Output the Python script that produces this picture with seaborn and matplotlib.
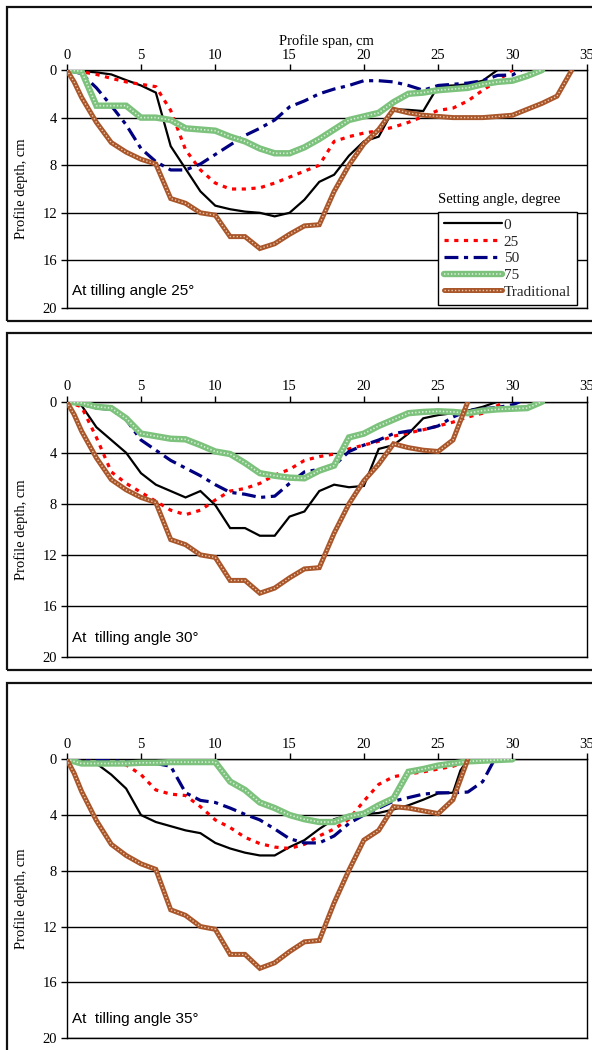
import matplotlib
matplotlib.use("Agg")
import matplotlib.pyplot as plt
import seaborn as sns
from matplotlib.patches import Rectangle

# ---------------- data ----------------
# Panel 1: tilling angle 25°
x1_0 = [0, 1, 2, 3, 4, 5, 6, 7, 8, 9, 10, 11, 12, 13, 14, 15, 16, 17, 18, 19, 20, 21, 22, 23, 24, 25, 26, 27, 28, 29]
d1_0 = [0, 0.1, 0.2, 0.37, 0.85, 1.3, 1.9, 6.4, 8.3, 10.2, 11.4, 11.7, 11.9, 12.0, 12.3, 12.0, 10.9, 9.4, 8.8, 7.2, 6.0, 5.6, 3.3, 3.35, 3.45, 1.35, 1.3, 1.2, 0.9, 0]
x1_25 = [0, 1, 2, 3, 4, 5, 6, 7, 8, 9, 10, 11, 12, 13, 14, 15, 16, 17, 18, 19, 20, 21, 22, 23, 24, 25, 26, 27, 28, 29, 30]
d1_25 = [0, 0.15, 0.37, 0.7, 1.0, 1.2, 1.4, 3.4, 6.7, 8.4, 9.5, 10.0, 10.0, 9.9, 9.5, 9.0, 8.5, 8.0, 6.0, 5.6, 5.3, 5.1, 4.8, 4.4, 3.9, 3.4, 3.2, 2.6, 1.7, 0.9, 0]
x1_50 = [0, 1, 2, 3, 4, 5, 6, 7, 8, 9, 10, 11, 12, 13, 14, 15, 16, 17, 18, 19, 20, 21, 22, 23, 24, 25, 26, 27, 28, 29, 30, 30.6]
d1_50 = [0, 0.3, 1.5, 3.0, 4.6, 6.6, 7.7, 8.4, 8.4, 7.9, 7.1, 6.3, 5.5, 4.9, 4.2, 3.1, 2.6, 2.0, 1.6, 1.3, 0.9, 0.9, 1.0, 1.3, 1.7, 1.3, 1.2, 1.1, 0.9, 0.45, 0.42, 0]
x1_75 = [0, 1, 2, 3, 4, 5, 6, 7, 8, 9, 10, 11, 12, 13, 14, 15, 16, 17, 18, 19, 20, 21, 22, 23, 24, 25, 26, 27, 28, 29, 30, 31, 32]
d1_75 = [0, 0.1, 3.0, 3.0, 3.0, 4.0, 4.0, 4.2, 4.9, 5.0, 5.1, 5.6, 6.0, 6.6, 7.0, 7.0, 6.5, 5.8, 5.0, 4.2, 3.9, 3.6, 2.7, 2.0, 1.9, 1.7, 1.6, 1.5, 1.2, 1.0, 0.9, 0.5, 0]
xt1 = [0, 0.5, 1, 2, 3, 4, 5, 6, 7, 8, 9, 10, 11, 12, 13, 14, 15, 16, 17, 18, 19, 20, 21, 22, 23, 24, 25, 26, 27, 28, 29, 30, 31, 32, 33, 34]
dt1 = [0, 1.0, 2.3, 4.4, 6.1, 6.9, 7.5, 7.9, 10.8, 11.2, 12.0, 12.2, 14.0, 14.0, 15.0, 14.6, 13.8, 13.1, 13.0, 10.2, 8.0, 6.2, 5.0, 3.3, 3.6, 3.8, 3.9, 4.0, 4.0, 4.0, 3.9, 3.8, 3.3, 2.8, 2.2, 0]

# Panel 2: tilling angle 30°
x2_0 = [0, 1, 2, 3, 4, 5, 6, 7, 8, 9, 10, 11, 12, 13, 14, 15, 16, 17, 18, 19, 20, 21, 22, 23, 24, 25, 26, 27, 28, 29]
d2_0 = [0, 0.3, 2.0, 3.0, 4.0, 5.6, 6.5, 7.0, 7.5, 7.0, 8.1, 9.9, 9.9, 10.5, 10.5, 9.0, 8.6, 7.0, 6.5, 6.7, 6.6, 3.7, 3.4, 2.5, 1.3, 1.05, 0.9, 0.7, 0.4, 0]
x2_25 = [0, 1, 2, 3, 4, 5, 6, 7, 8, 9, 10, 11, 12, 13, 14, 15, 16, 17, 18, 19, 20, 21, 22, 23, 24, 25, 26, 27, 28, 29, 29.5]
d2_25 = [0, 0.4, 2.8, 5.5, 6.4, 7.1, 7.8, 8.5, 8.85, 8.5, 7.7, 7.0, 6.8, 6.4, 5.75, 5.3, 4.6, 4.3, 4.1, 3.7, 3.4, 3.1, 2.7, 2.45, 2.2, 1.9, 1.6, 1.2, 0.9, 0.3, 0]
x2_50 = [0, 1, 2, 3, 4, 5, 6, 7, 8, 9, 10, 11, 12, 13, 14, 15, 16, 17, 18, 19, 20, 21, 22, 23, 24, 25, 26, 27, 28, 29, 30, 30.5]
d2_50 = [0, 0.2, 0.5, 0.6, 1.4, 3.0, 3.8, 4.6, 5.2, 5.8, 6.5, 7.1, 7.25, 7.5, 7.4, 6.4, 5.5, 5.3, 5.0, 3.9, 3.4, 3.0, 2.5, 2.3, 2.2, 1.9, 1.2, 0.7, 0.55, 0.45, 0.25, 0]
x2_75 = [0, 1, 2, 3, 4, 5, 6, 7, 8, 9, 10, 11, 12, 13, 14, 15, 16, 17, 18, 19, 20, 21, 22, 23, 24, 25, 26, 27, 28, 29, 30, 31, 32]
d2_75 = [0, 0.1, 0.4, 0.5, 1.3, 2.5, 2.7, 2.9, 2.95, 3.4, 3.9, 4.1, 4.8, 5.6, 5.8, 5.95, 6.0, 5.4, 5.0, 2.8, 2.5, 1.9, 1.4, 0.9, 0.8, 0.75, 0.8, 0.9, 0.7, 0.6, 0.55, 0.5, 0]
xt2 = [0, 0.5, 1, 2, 3, 4, 5, 6, 7, 8, 9, 10, 11, 12, 13, 14, 15, 16, 17, 18, 19, 20, 21, 22, 23, 24, 25, 26, 27]
dt2 = [0, 1.0, 2.3, 4.4, 6.1, 6.9, 7.5, 7.9, 10.8, 11.2, 12.0, 12.2, 14.0, 14.0, 15.0, 14.6, 13.8, 13.1, 13.0, 10.3, 8.0, 6.2, 4.9, 3.3, 3.6, 3.8, 3.9, 3.0, 0]

# Panel 3: tilling angle 35°
x3_0 = [0, 1, 2, 3, 4, 5, 6, 7, 8, 9, 10, 11, 12, 13, 14, 15, 16, 17, 18, 19, 20, 21, 22, 23, 24, 25, 26, 26.5, 27]
d3_0 = [0, 0.1, 0.3, 1.1, 2.1, 4.0, 4.5, 4.8, 5.1, 5.3, 6.0, 6.4, 6.7, 6.9, 6.9, 6.3, 5.8, 5.0, 4.3, 4.0, 3.95, 3.85, 3.6, 3.3, 2.9, 2.45, 2.4, 0.8, 0]
x3_25 = [0, 1, 2, 3, 4, 5, 6, 7, 8, 9, 10, 11, 12, 13, 14, 15, 16, 17, 18, 19, 20, 21, 22, 23, 24, 25, 26, 27, 27.5]
d3_25 = [0, 0.05, 0.1, 0.2, 0.4, 1.1, 2.2, 2.5, 2.6, 3.4, 4.35, 4.9, 5.6, 6.05, 6.3, 6.4, 6.1, 5.5, 5.0, 4.3, 3.0, 1.8, 1.25, 1.05, 0.9, 0.7, 0.5, 0.1, 0]
x3_50 = [0, 1, 2, 3, 4, 5, 6, 7, 8, 9, 10, 11, 12, 13, 14, 15, 16, 17, 18, 19, 20, 21, 22, 23, 24, 25, 26, 27, 28, 28.8]
d3_50 = [0, 0.02, 0.05, 0.1, 0.15, 0.2, 0.3, 0.5, 2.4, 2.95, 3.1, 3.5, 3.95, 4.35, 5.0, 5.7, 6.0, 6.0, 5.5, 4.6, 4.0, 3.5, 3.0, 2.75, 2.5, 2.4, 2.4, 2.35, 1.6, 0]
x3_75 = [0, 1, 2, 3, 4, 5, 6, 7, 8, 9, 10, 11, 12, 13, 14, 15, 16, 17, 18, 19, 20, 21, 22, 23, 24, 25, 26, 27, 28, 29, 30]
d3_75 = [0, 0.3, 0.3, 0.3, 0.3, 0.25, 0.25, 0.2, 0.2, 0.2, 0.2, 1.6, 2.2, 3.1, 3.5, 4.0, 4.3, 4.5, 4.5, 4.1, 3.9, 3.3, 2.8, 0.9, 0.7, 0.45, 0.3, 0.15, 0.1, 0.05, 0]
xt3 = [0, 0.5, 1, 2, 3, 4, 5, 6, 7, 8, 9, 10, 11, 12, 13, 14, 15, 16, 17, 18, 19, 20, 21, 22, 23, 24, 25, 26, 27]
dt3 = [0, 1.0, 2.3, 4.4, 6.1, 6.9, 7.5, 7.9, 10.8, 11.2, 12.0, 12.2, 14.0, 14.0, 15.0, 14.6, 13.8, 13.1, 13.0, 10.3, 7.95, 5.8, 5.1, 3.4, 3.5, 3.7, 3.9, 2.9, 0]

series_labels = ["0", "25", "50", "75", "Traditional"]
panel_titles = ["At tilling angle 25°", "At  tilling angle 30°", "At  tilling angle 35°"]
x_ticks = [0, 5, 10, 15, 20, 25, 30, 35]
y_ticks = [0, 4, 8, 12, 16, 20]
x_title = "Profile span, cm"
y_title = "Profile depth, cm"
legend_title = "Setting angle, degree"

panels = [
    [(x1_0, d1_0), (x1_25, d1_25), (x1_50, d1_50), (x1_75, d1_75), (xt1, dt1)],
    [(x2_0, d2_0), (x2_25, d2_25), (x2_50, d2_50), (x2_75, d2_75), (xt2, dt2)],
    [(x3_0, d3_0), (x3_25, d3_25), (x3_50, d3_50), (x3_75, d3_75), (xt3, dt3)],
]

# ---------------- style ----------------
sns.set_theme(style="white")
plt.rcParams["font.family"] = ["Liberation Serif", "DejaVu Serif"]
plt.rcParams["lines.scale_dashes"] = False

W, H = 592, 1050
fig = plt.figure(figsize=(W / 100, H / 100), dpi=100)

# axes boxes in pixels: (left, top, right, bottom)
ax_px = [(66.7, 70, 586.7, 308), (66.7, 401.7, 586.7, 657), (66.7, 759.3, 586.7, 1038)]
frame_px = [(7, 7, 600, 321), (7, 333, 600, 670), (7, 683, 600, 1060)]
text_y = [18.6, 18.5, 18.65]

for (fl, ft, fr, fb) in frame_px:
    fig.add_artist(Rectangle((fl / W, 1 - fb / H), (fr - fl) / W, (fb - ft) / H,
                             transform=fig.transFigure, fill=False, lw=1.6,
                             edgecolor="#111111", zorder=0))

styles = [
    dict(color="black", lw=1.6, ls="-"),
    dict(color="#ff0000", lw=2.3, ls=(0, (3, 4))),
    dict(color="#000080", lw=2.3, ls=(0, (10, 4, 3, 4))),
    dict(color="#7cc27c", lw=4.6, ls="-"),
    dict(color="#a9562a", lw=3.6, ls="-"),
]
overlay = {3: dict(color="#d8eed8", lw=1.2, ls=(0, (1, 1.5))),
           4: dict(color="#ecc7aa", lw=1.0, ls=(0, (1, 1.5)))}

for i, (l, t, r, b) in enumerate(ax_px):
    ax = fig.add_axes([l / W, 1 - b / H, (r - l) / W, (b - t) / H])
    handles = []
    for j, (xs, ys) in enumerate(panels[i]):
        st = styles[j]
        sns.lineplot(x=xs, y=ys, ax=ax, sort=False, estimator=None,
                     color=st["color"], linewidth=st["lw"], linestyle=st["ls"],
                     solid_joinstyle="miter", zorder=3 + j)
        h = [ax.lines[-1]]
        if j in overlay:
            ov = overlay[j]
            sns.lineplot(x=xs, y=ys, ax=ax, sort=False, estimator=None,
                         color=ov["color"], linewidth=ov["lw"], linestyle=ov["ls"],
                         zorder=3 + j + 0.5)
            h.append(ax.lines[-1])
        handles.append(tuple(h))

    ax.set_xlim(0, 35)
    ax.set_ylim(20, 0)
    ax.set_xticks(x_ticks)
    ax.set_yticks(y_ticks)
    ax.xaxis.tick_top()
    ax.tick_params(axis="x", top=True, bottom=False, direction="out", length=4,
                   width=1, color="black", labelsize=10.5, pad=2, labelcolor="black")
    ax.tick_params(axis="y", left=True, direction="out", length=4, width=1,
                   color="black", labelsize=10.5, pad=3, labelcolor="black")
    ax.yaxis.grid(True, color="black", lw=1.0)
    ax.xaxis.grid(False)
    for s in ax.spines.values():
        s.set_visible(True)
        s.set_color("black")
        s.set_linewidth(1.0)
    ax.set_ylabel(y_title, fontsize=10.5, color="black", labelpad=10)
    if i == 0:
        ax.xaxis.set_label_position("top")
        ax.set_xlabel(x_title, fontsize=10.5, color="black", labelpad=3)
    else:
        ax.set_xlabel("")
    ax.text(0.36, text_y[i], panel_titles[i], family=["Liberation Sans", "DejaVu Sans"],
            fontsize=11, ha="left", va="center", color="black")
    if ax.get_legend() is not None:
        ax.get_legend().remove()
    if i == 0:
        leg = ax.legend(handles=handles, labels=series_labels, loc="upper left",
                        bbox_to_anchor=(438 / W, 1 - 212 / H), bbox_transform=fig.transFigure,
                        borderaxespad=0, frameon=True, fancybox=False, framealpha=1,
                        edgecolor="black", fontsize=11, handlelength=3.8,
                        handletextpad=0.1, labelspacing=0.2, borderpad=0.4)
        leg.get_frame().set_linewidth(1.0)
        leg.set_zorder(20)
        fig.text(438 / W, 1 - 199 / H, legend_title, fontsize=10.5, ha="left",
                 va="center", color="black")

fig.savefig("out.png", dpi=100)
